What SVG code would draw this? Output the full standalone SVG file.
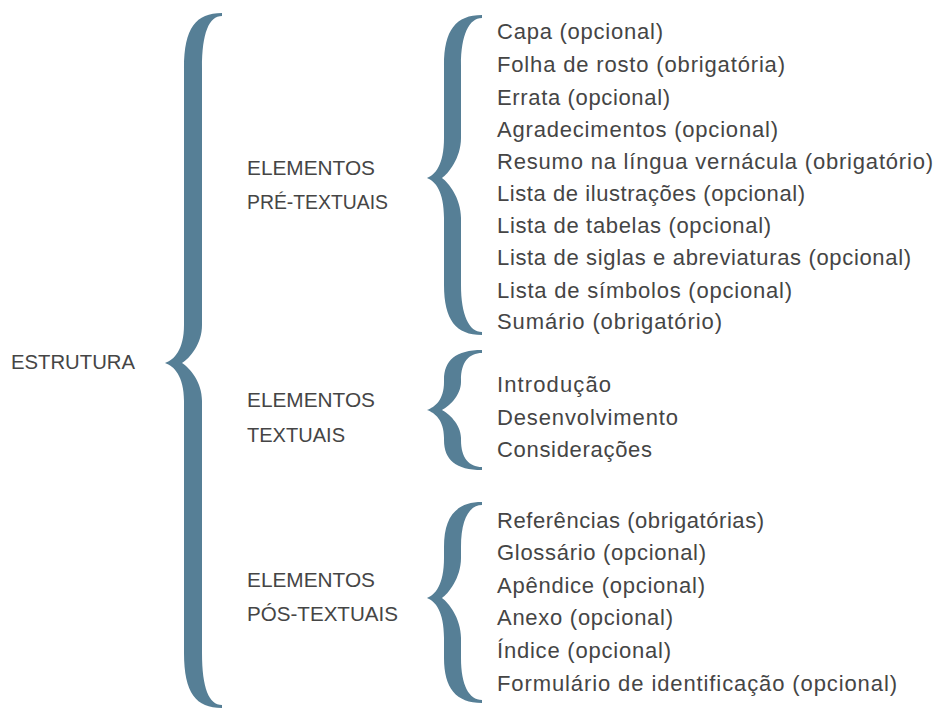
<svg xmlns="http://www.w3.org/2000/svg" width="935" height="710" viewBox="0 0 935 710">
<style>
.b{fill:#567f96}
.t{font-family:"Liberation Sans",Arial,sans-serif;font-size:21px;fill:#454545}
.i{font-family:"Liberation Sans",Arial,sans-serif;font-size:22px;fill:#454545}
</style>
<rect width="935" height="710" fill="#fff"/>
<g id="connectors">
<path class="b" d="M222,13 C196,13 184,28 184,68 L184,325 C184,350 174,360 165,363 C174,366 184,376 184,401 L184,653 C184,693 196,708 222,708 L222,705 C209,705 202,688 202,653 L202,401 C202,382 190,368 182,363 C190,358 202,344 202,325 L202,68 C202,33 209,16 222,16 Z"/>
<path class="b" d="M482,15 C456,15 444,30 444,65 L444,138 C444,165 435,175 427,178 C435,181 444,191 444,218 L444,285 C444,320 456,335 482,335 L482,332 C469,332 461,315 461,285 L461,218 C461,198 448,182 442,178 C448,174 461,158 461,138 L461,65 C461,35 469,18 482,18 Z"/>
<path class="b" d="M482,350 C456,350 444,360 444,380 L444,382 C444,400 435,407 427,410 C435,413 444,420 444,438 L444,440 C444,460 456,470 482,470 L482,467 C469,467 461,458 461,440 L461,438 C461,424 448,413 442,410 C448,407 461,396 461,382 L461,380 C461,362 469,353 482,353 Z"/>
<path class="b" d="M482,502 C456,502 444,517 444,547 L444,558 C444,585 435,595 427,598 C435,601 444,611 444,638 L444,658 C444,688 456,703 482,703 L482,700 C469,700 461,685 461,658 L461,638 C461,618 448,602 442,598 C448,594 461,578 461,558 L461,547 C461,520 469,505 482,505 Z"/>
</g>
<g id="estrutura"><text class="t" x="11" y="369" textLength="124" lengthAdjust="spacingAndGlyphs">ESTRUTURA</text></g>
<g id="pre"><text class="t" x="247" y="175" textLength="128" lengthAdjust="spacingAndGlyphs">ELEMENTOS</text><text class="t" x="247" y="209" textLength="141" lengthAdjust="spacingAndGlyphs">PRÉ-TEXTUAIS</text></g>
<g id="textuais"><text class="t" x="247" y="407" textLength="128" lengthAdjust="spacingAndGlyphs">ELEMENTOS</text><text class="t" x="247" y="442" textLength="98" lengthAdjust="spacingAndGlyphs">TEXTUAIS</text></g>
<g id="pos"><text class="t" x="247" y="587" textLength="128" lengthAdjust="spacingAndGlyphs">ELEMENTOS</text><text class="t" x="247" y="621" textLength="151" lengthAdjust="spacingAndGlyphs">PÓS-TEXTUAIS</text></g>
<g id="pre-items">
<text class="i" x="497" y="39" textLength="166">Capa (opcional)</text>
<text class="i" x="497" y="72" textLength="288">Folha de rosto (obrigatória)</text>
<text class="i" x="497" y="105" textLength="173">Errata (opcional)</text>
<text class="i" x="497" y="137" textLength="281">Agradecimentos (opcional)</text>
<text class="i" x="497" y="169" textLength="436">Resumo na língua vernácula (obrigatório)</text>
<text class="i" x="497" y="201" textLength="308">Lista de ilustrações (opcional)</text>
<text class="i" x="497" y="233" textLength="274">Lista de tabelas (opcional)</text>
<text class="i" x="497" y="265" textLength="414">Lista de siglas e abreviaturas (opcional)</text>
<text class="i" x="497" y="298" textLength="295">Lista de símbolos (opcional)</text>
<text class="i" x="497" y="329" textLength="225">Sumário (obrigatório)</text>
</g>
<g id="textuais-items">
<text class="i" x="497" y="392" textLength="114">Introdução</text>
<text class="i" x="497" y="425" textLength="181">Desenvolvimento</text>
<text class="i" x="497" y="457" textLength="155">Considerações</text>
</g>
<g id="pos-items">
<text class="i" x="497" y="528" textLength="267">Referências (obrigatórias)</text>
<text class="i" x="497" y="560" textLength="209">Glossário (opcional)</text>
<text class="i" x="497" y="593" textLength="208">Apêndice (opcional)</text>
<text class="i" x="497" y="625" textLength="176">Anexo (opcional)</text>
<text class="i" x="497" y="658" textLength="174">Índice (opcional)</text>
<text class="i" x="497" y="691" textLength="400">Formulário de identificação (opcional)</text>
</g>
</svg>
